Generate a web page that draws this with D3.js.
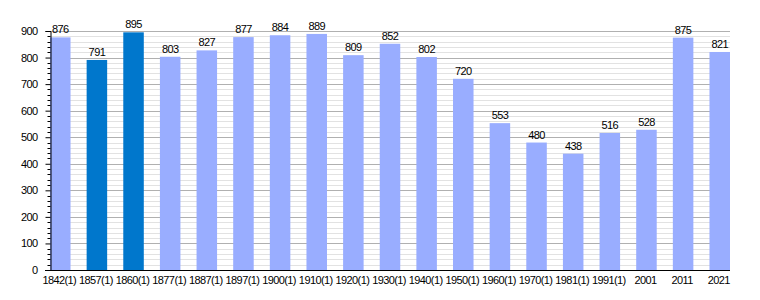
<!DOCTYPE html>
<html>
<head>
<meta charset="utf-8">
<script src="https://cdn.jsdelivr.net/npm/d3@7"></script>
<style>
body { margin: 0; background: #fff; }
text { font-family: "Liberation Sans", Arial, sans-serif; font-size: 11px; letter-spacing: -0.6px; fill: #000; }
</style>
</head>
<body>
<div class="chart"></div>
<script>
const years = ['1842(1)', '1857(1)', '1860(1)', '1877(1)', '1887(1)', '1897(1)', '1900(1)', '1910(1)', '1920(1)', '1930(1)',
	'1940(1)', '1950(1)', '1960(1)', '1970(1)', '1981(1)', '1991(1)', '2001', '2011', '2021'];
const population = [876, 791, 895, 803, 827, 877, 884, 889, 809, 852, 802, 720, 553, 480, 438, 516, 528, 875, 821];
const highlighted = ['1857(1)', '1860(1)'];
const yTicks = [0, 100, 200, 300, 400, 500, 600, 700, 800, 900];

const width = 760;
const height = 300;
const plotLeft = 50, plotRight = 730, plotTop = 31, plotBottom = 270;

const svg = d3.select('.chart').append('svg')
	.attr('width', width)
	.attr('height', height);

const x = d3.scaleBand()
	.domain(years)
	.range([plotLeft, plotRight])
	.paddingInner(0.44)
	.paddingOuter(0);

const y = d3.scaleLinear()
	.domain([0, 900])
	.range([plotBottom, plotTop]);

// minor grid every 20
const minor = d3.range(0, 901, 20).filter(v => v % 100 !== 0);
svg.selectAll('.minor')
	.data(minor)
	.enter()
	.append('line')
	.attr('x1', plotLeft)
	.attr('x2', plotRight)
	.attr('y1', d => Math.round(y(d)) + 0.5)
	.attr('y2', d => Math.round(y(d)) + 0.5)
	.attr('stroke', '#e2e2e2')
	.attr('class', 'minor');

svg.selectAll('.major')
	.data(yTicks.slice(1))
	.enter()
	.append('line')
	.attr('x1', plotLeft)
	.attr('x2', plotRight)
	.attr('y1', d => Math.round(y(d)) + 0.5)
	.attr('y2', d => Math.round(y(d)) + 0.5)
	.attr('stroke', '#b0b0b0')
	.attr('class', 'major');

svg.selectAll('.bars')
	.data(population)
	.enter()
	.append('rect')
	.attr('x', (d, i) => x(years[i]))
	.attr('y', d => y(d))
	.attr('width', x.bandwidth())
	.attr('height', d => y(0) - y(d))
	.attr('fill', (d, i) => highlighted.includes(years[i]) ? '#0077cc' : '#99adff')
	.attr('class', 'bars');

svg.selectAll('.vals')
	.data(population)
	.enter()
	.append('text')
	.text(d => d)
	.attr('x', (d, i) => x(years[i]) + x.bandwidth() / 2)
	.attr('y', d => y(d) - 4)
	.attr('text-anchor', 'middle')
	.attr('class', 'vals');

// y axis with minor ticks
const yAxis = svg.append('g')
	.attr('transform', `translate(${plotLeft + 0.5},0)`)
	.call(d3.axisLeft(y).tickValues(yTicks).tickSize(5).tickPadding(8).tickFormat(d3.format('d')));
yAxis.select('.domain').attr('stroke', '#000');
yAxis.selectAll('.tick line').attr('stroke', '#000');
yAxis.selectAll('.tick text').style('font-size', '11px').style('font-family', '"Liberation Sans", Arial, sans-serif');

svg.append('g')
	.attr('transform', `translate(${plotLeft + 0.5},0)`)
	.selectAll('line')
	.data(minor)
	.enter()
	.append('line')
	.attr('x1', -3)
	.attr('x2', 0)
	.attr('y1', d => Math.round(y(d)) + 0.5)
	.attr('y2', d => Math.round(y(d)) + 0.5)
	.attr('stroke', '#000');

// x axis
svg.append('line')
	.attr('x1', plotLeft - 5)
	.attr('x2', plotRight)
	.attr('y1', plotBottom + 0.5)
	.attr('y2', plotBottom + 0.5)
	.attr('stroke', '#000');

svg.selectAll('.xlab')
	.data(years)
	.enter()
	.append('text')
	.text(d => d)
	.attr('x', d => x(d) + x.bandwidth() / 2 - 1)
	.attr('y', plotBottom + 14)
	.attr('text-anchor', 'middle')
	.attr('class', 'xlab');
</script>
</body>
</html>
